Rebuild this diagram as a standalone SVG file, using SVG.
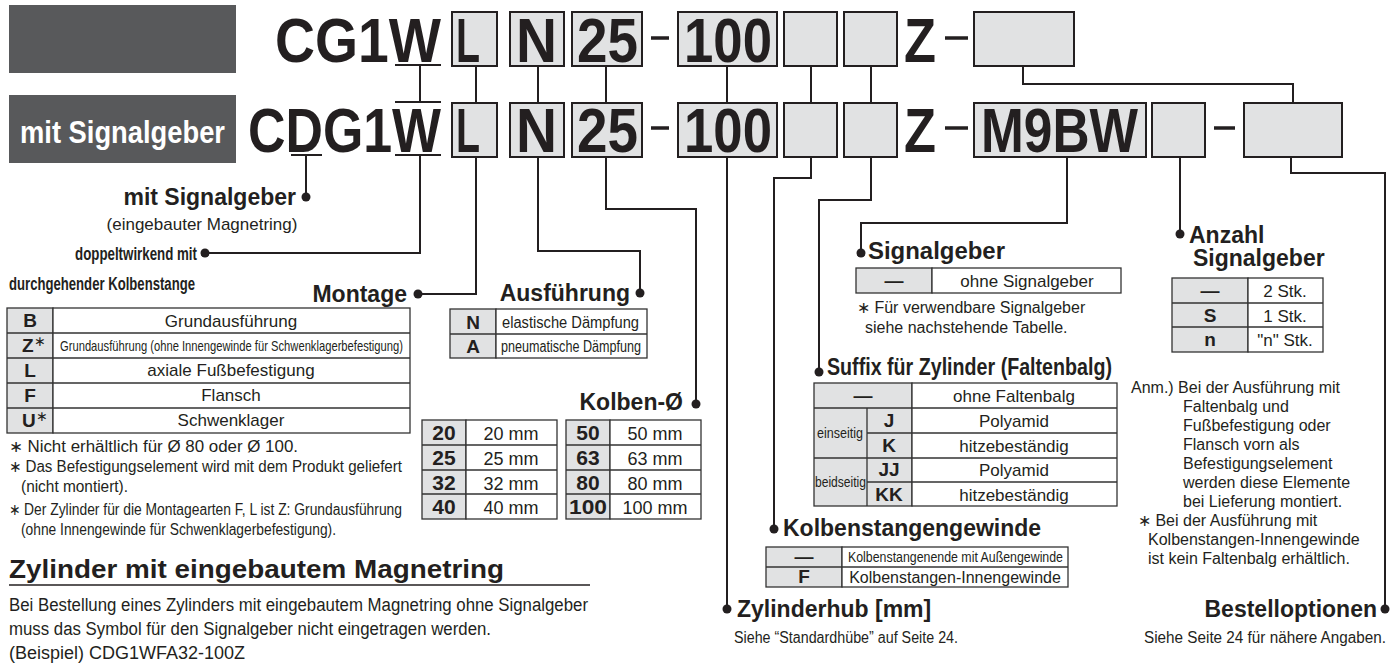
<svg xmlns="http://www.w3.org/2000/svg" width="1396" height="664" viewBox="0 0 1396 664">
<style>
text{font-family:"Liberation Sans",Arial,Helvetica,sans-serif;fill:#231f20}
.b{font-weight:bold}
.code{font-size:63px;font-weight:bold}
.lbl{font-size:23px;font-weight:bold}
.c17{font-size:17px}
.c16{font-size:16px}
.k{font-size:19px;font-weight:bold}
.m{text-anchor:middle}
.box{fill:#e1e2e3;stroke:#231f20;stroke-width:2}
.key{fill:#e1e2e3;stroke:#333;stroke-width:1.3}
.cell{fill:#fff;stroke:#333;stroke-width:1.3}
.ln{fill:none;stroke:#231f20;stroke-width:2}
.dash{stroke:#231f20;stroke-width:3.5}
.dot{fill:#231f20}
</style>
<g id="header">
<rect x="9" y="5" width="227" height="68" fill="#58595b"/>
<rect x="9" y="95" width="227" height="68" fill="#58595b"/>
<text x="20" y="143" font-size="32" class="b" style="fill:#fff" textLength="205" lengthAdjust="spacingAndGlyphs">mit Signalgeber</text>
</g>
<g id="code-top">
<text x="275" y="62" class="code" textLength="166" lengthAdjust="spacingAndGlyphs">CG1W</text>
<line x1="395" y1="65" x2="441" y2="65" class="ln"/>
<rect x="452" y="12" width="45" height="54" class="box"/>
<text x="456" y="62" class="code" textLength="24" lengthAdjust="spacingAndGlyphs">L</text>
<rect x="510" y="12" width="54" height="54" class="box"/>
<text x="516" y="62" class="code" textLength="41" lengthAdjust="spacingAndGlyphs">N</text>
<rect x="572" y="12" width="70" height="54" class="box"/>
<text x="577" y="62" class="code" textLength="61" lengthAdjust="spacingAndGlyphs">25</text>
<line x1="651" y1="38" x2="669" y2="38" class="dash"/>
<rect x="678" y="12" width="99" height="54" class="box"/>
<text x="684" y="62" class="code" textLength="88" lengthAdjust="spacingAndGlyphs">100</text>
<rect x="784" y="12" width="53" height="54" class="box"/>
<rect x="844" y="12" width="53" height="54" class="box"/>
<text x="904" y="62" class="code" textLength="32" lengthAdjust="spacingAndGlyphs">Z</text>
<line x1="945" y1="38" x2="968" y2="38" class="dash"/>
<rect x="974" y="12" width="100" height="54" class="box"/>
</g>
<g id="code-bottom">
<text x="248" y="152" class="code" textLength="193" lengthAdjust="spacingAndGlyphs">CDG1W</text>
<line x1="291" y1="155" x2="322" y2="155" class="ln"/>
<line x1="395" y1="102" x2="441" y2="102" class="ln"/>
<line x1="395" y1="155" x2="441" y2="155" class="ln"/>
<rect x="452" y="103" width="45" height="54" class="box"/>
<text x="456" y="152" class="code" textLength="24" lengthAdjust="spacingAndGlyphs">L</text>
<rect x="510" y="103" width="54" height="54" class="box"/>
<text x="516" y="152" class="code" textLength="41" lengthAdjust="spacingAndGlyphs">N</text>
<rect x="572" y="103" width="70" height="54" class="box"/>
<text x="577" y="152" class="code" textLength="61" lengthAdjust="spacingAndGlyphs">25</text>
<line x1="651" y1="128" x2="669" y2="128" class="dash"/>
<rect x="678" y="103" width="99" height="54" class="box"/>
<text x="684" y="152" class="code" textLength="88" lengthAdjust="spacingAndGlyphs">100</text>
<rect x="784" y="103" width="53" height="54" class="box"/>
<rect x="844" y="103" width="53" height="54" class="box"/>
<text x="904" y="152" class="code" textLength="32" lengthAdjust="spacingAndGlyphs">Z</text>
<line x1="945" y1="128" x2="968" y2="128" class="dash"/>
<rect x="974" y="103" width="172" height="54" class="box"/>
<text x="981" y="152" class="code" textLength="157" lengthAdjust="spacingAndGlyphs">M9BW</text>
<rect x="1152" y="103" width="53" height="54" class="box"/>
<line x1="1214" y1="128" x2="1235" y2="128" class="dash"/>
<rect x="1244" y="103" width="98" height="54" class="box"/>
</g>
<g id="connectors">
<path class="ln" d="M420,66V102M476,66V103M538,66V103M606,66V103M727,66V103M811,66V103M871,66V103M1023,66V84H1293V103"/>
<path class="ln" d="M306,156V197M420,156V253H205M476,157V294H418M538,157V251H640V293M606,157V209H696V404M727,157V609M811,157V178H774V529M871,157V200H819V372M1067,157V223H861V253M1180,157V234M1291,157V173H1385V609"/>
<circle class="dot" cx="306" cy="197" r="4.5"/>
<circle class="dot" cx="205" cy="253" r="4.5"/>
<circle class="dot" cx="418" cy="294" r="4.5"/>
<circle class="dot" cx="640" cy="293" r="4.5"/>
<circle class="dot" cx="696" cy="404" r="4.5"/>
<circle class="dot" cx="727" cy="609" r="4.5"/>
<circle class="dot" cx="774" cy="529" r="4.5"/>
<circle class="dot" cx="819" cy="372" r="4.5"/>
<circle class="dot" cx="861" cy="253" r="4.5"/>
<circle class="dot" cx="1180" cy="234" r="4.5"/>
<circle class="dot" cx="1385" cy="609" r="4.5"/>
</g>
<g id="node-signalgeber-magnet">
<text x="296" y="205" class="lbl" text-anchor="end">mit Signalgeber</text>
<text x="202" y="230" class="c17 m">(eingebauter Magnetring)</text>
</g>
<g id="node-doppeltwirkend">
<text x="75" y="260" font-size="18" class="b" textLength="122" lengthAdjust="spacingAndGlyphs">doppeltwirkend mit</text>
<text x="9" y="290" font-size="18" class="b" textLength="186" lengthAdjust="spacingAndGlyphs">durchgehender Kolbenstange</text>
</g>
<g id="node-montage">
<text x="407" y="302" class="lbl" text-anchor="end">Montage</text>
<rect x="7" y="308" width="46" height="125" class="key"/>
<rect x="53" y="308" width="357" height="125" class="cell"/>
<path d="M7,333H410M7,358H410M7,383H410M7,408H410" stroke="#333" stroke-width="1.3"/>
<text x="30" y="327" class="k m">B</text>
<text x="22" y="352" class="k">Z<tspan dy="-6" font-size="14" font-weight="normal">∗</tspan></text>
<text x="30" y="377" class="k m">L</text>
<text x="30" y="402" class="k m">F</text>
<text x="22" y="427" class="k">U<tspan dy="-6" font-size="14" font-weight="normal">∗</tspan></text>
<text x="231" y="327" class="c17 m">Grundausführung</text>
<text x="60" y="351" font-size="15" textLength="343" lengthAdjust="spacingAndGlyphs">Grundausführung (ohne Innengewinde für Schwenklagerbefestigung)</text>
<text x="231" y="376" class="c17 m">axiale Fußbefestigung</text>
<text x="231" y="401" class="c17 m">Flansch</text>
<text x="231" y="426" class="c17 m">Schwenklager</text>
<text x="9" y="452" font-size="16" textLength="289" lengthAdjust="spacingAndGlyphs">∗ Nicht erhältlich für Ø 80 oder Ø 100.</text>
<text x="9" y="472" font-size="16" textLength="393" lengthAdjust="spacingAndGlyphs">∗ Das Befestigungselement wird mit dem Produkt geliefert</text>
<text x="21" y="492" font-size="16" textLength="107" lengthAdjust="spacingAndGlyphs">(nicht montiert).</text>
<text x="9" y="515" font-size="16" textLength="393" lengthAdjust="spacingAndGlyphs">∗ Der Zylinder für die Montagearten F, L ist Z: Grundausführung</text>
<text x="21" y="535" font-size="16" textLength="315" lengthAdjust="spacingAndGlyphs">(ohne Innengewinde für Schwenklagerbefestigung).</text>
</g>
<g id="node-ausfuehrung">
<text x="630" y="301" class="lbl" text-anchor="end">Ausführung</text>
<rect x="450" y="309" width="46" height="49" class="key"/>
<rect x="496" y="309" width="151" height="49" class="cell"/>
<path d="M450,334H647" stroke="#333" stroke-width="1.3"/>
<text x="473" y="329" class="k m">N</text>
<text x="473" y="353" class="k m">A</text>
<text x="502" y="328" font-size="16" textLength="137" lengthAdjust="spacingAndGlyphs">elastische Dämpfung</text>
<text x="501" y="352" font-size="16" textLength="140" lengthAdjust="spacingAndGlyphs">pneumatische Dämpfung</text>
</g>
<g id="node-kolben">
<text x="683" y="410" class="lbl" text-anchor="end">Kolben-Ø</text>
<rect x="422" y="420" width="44" height="99" class="key"/>
<rect x="466" y="420" width="91" height="99" class="cell"/>
<rect x="566" y="420" width="44" height="99" class="key"/>
<rect x="610" y="420" width="91" height="99" class="cell"/>
<path d="M422,445H557M422,470H557M422,494H557M566,445H701M566,470H701M566,494H701" stroke="#333" stroke-width="1.3"/>
<g font-size="21" font-weight="bold" text-anchor="middle">
<text x="444" y="440">20</text><text x="444" y="465">25</text><text x="444" y="490">32</text><text x="444" y="514">40</text>
<text x="588" y="440">50</text><text x="588" y="465">63</text><text x="588" y="490">80</text><text x="588" y="514" textLength="38" lengthAdjust="spacingAndGlyphs">100</text>
</g>
<g font-size="18" text-anchor="middle">
<text x="511" y="440">20 mm</text><text x="511" y="465">25 mm</text><text x="511" y="490">32 mm</text><text x="511" y="514">40 mm</text>
<text x="655" y="440">50 mm</text><text x="655" y="465">63 mm</text><text x="655" y="490">80 mm</text><text x="655" y="514">100 mm</text>
</g>
</g>
<g id="node-magnetring-note">
<text x="9" y="578" font-size="25" class="b" textLength="495" lengthAdjust="spacingAndGlyphs">Zylinder mit eingebautem Magnetring</text>
<line x1="9" y1="585" x2="590" y2="585" stroke="#231f20" stroke-width="1.5"/>
<text x="9" y="611" font-size="18" textLength="579" lengthAdjust="spacingAndGlyphs">Bei Bestellung eines Zylinders mit eingebautem Magnetring ohne Signalgeber</text>
<text x="9" y="635" font-size="18" textLength="482" lengthAdjust="spacingAndGlyphs">muss das Symbol für den Signalgeber nicht eingetragen werden.</text>
<text x="9" y="659" font-size="18" textLength="236" lengthAdjust="spacingAndGlyphs">(Beispiel) CDG1WFA32-100Z</text>
</g>
<g id="node-zylinderhub">
<text x="737" y="617" class="lbl">Zylinderhub [mm]</text>
<text x="734" y="643" class="c16" textLength="224" lengthAdjust="spacingAndGlyphs">Siehe “Standardhübe” auf Seite 24.</text>
</g>
<g id="node-kolbenstangengewinde">
<text x="783" y="536" class="lbl">Kolbenstangengewinde</text>
<rect x="766" y="547" width="76" height="40" class="key"/>
<rect x="842" y="547" width="226" height="40" class="cell"/>
<path d="M766,567H1068" stroke="#333" stroke-width="1.3"/>
<text x="804" y="563" class="k m">—</text>
<text x="804" y="583" class="k m">F</text>
<text x="848" y="562" font-size="14" textLength="215" lengthAdjust="spacingAndGlyphs">Kolbenstangenende mit Außengewinde</text>
<text x="955" y="583" class="c16 m">Kolbenstangen-Innengewinde</text>
</g>
<g id="node-suffix">
<text x="827" y="375" class="lbl" textLength="285" lengthAdjust="spacingAndGlyphs">Suffix für Zylinder (Faltenbalg)</text>
<rect x="814" y="383" width="98" height="123" class="key"/>
<rect x="912" y="383" width="205" height="123" class="cell"/>
<path d="M814,408H1117M867,433H1117M814,458H1117M867,482H1117M867,408V506" stroke="#333" stroke-width="1.3"/>
<text x="863" y="402" class="k m">—</text>
<text x="889" y="427" class="k m">J</text>
<text x="889" y="452" class="k m">K</text>
<text x="889" y="476" class="k m">JJ</text>
<text x="889" y="501" class="k m">KK</text>
<text x="817" y="438" font-size="14" textLength="46" lengthAdjust="spacingAndGlyphs">einseitig</text>
<text x="815" y="487" font-size="14" textLength="51" lengthAdjust="spacingAndGlyphs">beidseitig</text>
<text x="1014" y="402" class="c17 m">ohne Faltenbalg</text>
<text x="1014" y="427" class="c17 m">Polyamid</text>
<text x="1014" y="452" class="c17 m">hitzebeständig</text>
<text x="1014" y="476" class="c17 m">Polyamid</text>
<text x="1014" y="501" class="c17 m">hitzebeständig</text>
</g>
<g id="node-signalgeber">
<text x="868" y="259" class="lbl" textLength="137" lengthAdjust="spacingAndGlyphs">Signalgeber</text>
<rect x="856" y="268" width="76" height="25" class="key"/>
<rect x="932" y="268" width="189" height="25" class="cell"/>
<text x="894" y="287" class="k m">—</text>
<text x="1027" y="287" class="c17 m">ohne Signalgeber</text>
<text x="857" y="313" class="c16">∗ Für verwendbare Signalgeber</text>
<text x="865" y="333" class="c16">siehe nachstehende Tabelle.</text>
</g>
<g id="node-anzahl">
<text x="1189" y="243" class="lbl">Anzahl</text>
<text x="1193" y="266" class="lbl">Signalgeber</text>
<rect x="1172" y="278" width="76" height="74" class="key"/>
<rect x="1248" y="278" width="75" height="74" class="cell"/>
<path d="M1172,303H1323M1172,327H1323" stroke="#333" stroke-width="1.3"/>
<text x="1210" y="297" class="k m">—</text>
<text x="1210" y="322" class="k m">S</text>
<text x="1210" y="346" class="k m">n</text>
<text x="1285" y="297" class="c17 m">2 Stk.</text>
<text x="1285" y="322" class="c17 m">1 Stk.</text>
<text x="1285" y="346" class="c17 m">"n" Stk.</text>
</g>
<g id="node-anm">
<text x="1131" y="393" class="c16">Anm.) Bei der Ausführung mit</text>
<text x="1183" y="412" class="c16">Faltenbalg und</text>
<text x="1183" y="431" class="c16">Fußbefestigung oder</text>
<text x="1183" y="450" class="c16">Flansch vorn als</text>
<text x="1183" y="469" class="c16">Befestigungselement</text>
<text x="1183" y="488" class="c16">werden diese Elemente</text>
<text x="1183" y="507" class="c16">bei Lieferung montiert.</text>
<text x="1138" y="526" class="c16">∗ Bei der Ausführung mit</text>
<text x="1148" y="545" class="c16">Kolbenstangen-Innengewinde</text>
<text x="1148" y="564" class="c16">ist kein Faltenbalg erhältlich.</text>
</g>
<g id="node-bestelloptionen">
<text x="1377" y="617" class="lbl" text-anchor="end">Bestelloptionen</text>
<text x="1144" y="643" class="c16" textLength="242" lengthAdjust="spacingAndGlyphs">Siehe Seite 24 für nähere Angaben.</text>
</g>
</svg>
